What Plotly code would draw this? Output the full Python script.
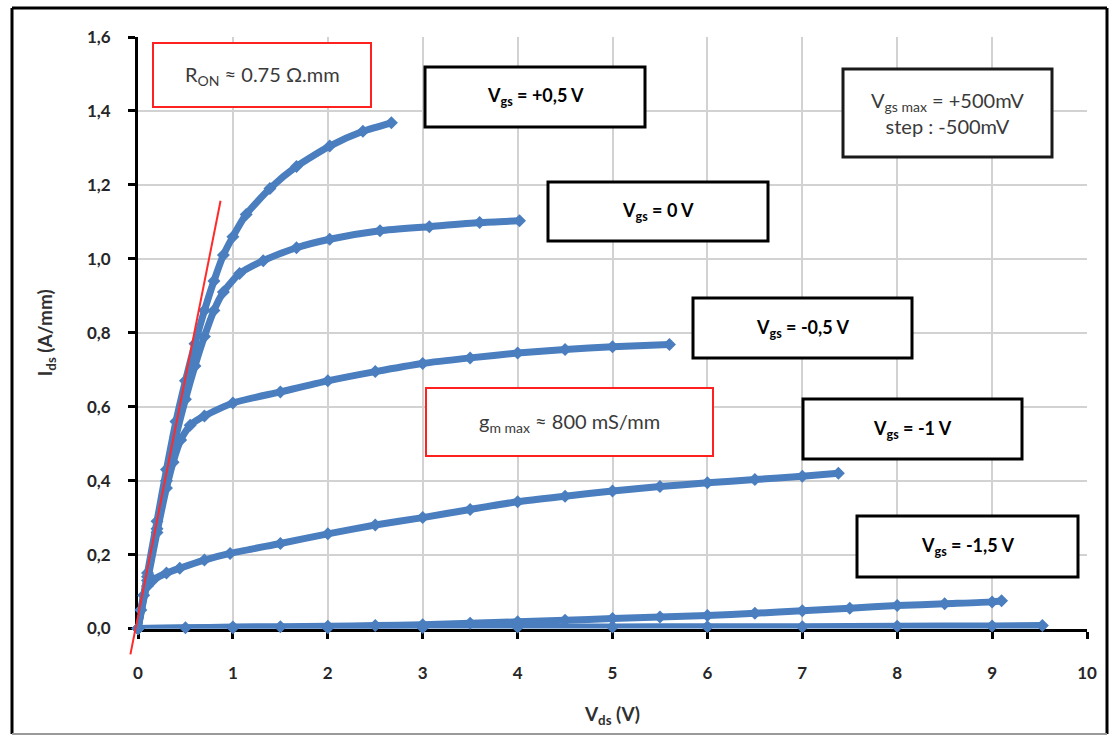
import plotly.graph_objects as go

# ---------------- data ----------------
vds_p05 = [0, 0.1, 0.2, 0.3, 0.4, 0.5, 0.6, 0.7, 0.8, 0.9, 1.0, 1.14, 1.39, 1.67, 2.02, 2.37, 2.67]
ids_p05 = [0, 0.15, 0.29, 0.43, 0.56, 0.67, 0.77, 0.86, 0.94, 1.01, 1.06, 1.12, 1.19, 1.25, 1.305, 1.345, 1.368]

vds_0 = [0, 0.1, 0.2, 0.3, 0.4, 0.5, 0.6, 0.7, 0.8, 0.9, 1.07, 1.32, 1.67, 2.02, 2.55, 3.07, 3.6, 4.02]
ids_0 = [0, 0.14, 0.27, 0.40, 0.52, 0.62, 0.71, 0.79, 0.86, 0.91, 0.96, 0.995, 1.03, 1.053, 1.076, 1.087, 1.098, 1.103]

vds_m05 = [0, 0.1, 0.2, 0.3, 0.37, 0.45, 0.55, 0.7, 1.0, 1.5, 2.0, 2.5, 3.0, 3.5, 4.0, 4.5, 5.0, 5.6]
ids_m05 = [0, 0.13, 0.26, 0.38, 0.45, 0.51, 0.55, 0.575, 0.61, 0.64, 0.67, 0.695, 0.717, 0.732, 0.745, 0.755, 0.762, 0.768]

vds_m1 = [0, 0.03, 0.06, 0.1, 0.16, 0.3, 0.44, 0.7, 0.97, 1.5, 2.0, 2.5, 3.0, 3.5, 4.0, 4.5, 5.0, 5.5, 6.0, 6.5, 7.0, 7.38]
ids_m1 = [0, 0.05, 0.09, 0.115, 0.131, 0.15, 0.163, 0.185, 0.203, 0.23, 0.256, 0.28, 0.30, 0.322, 0.343, 0.358, 0.372, 0.384, 0.394, 0.403, 0.412, 0.42]

vds_m15 = [0, 0.5, 1.0, 1.5, 2.0, 2.5, 3.0, 3.5, 4.0, 4.5, 5.0, 5.5, 6.0, 6.5, 7.0, 7.5, 8.0, 8.5, 9.0, 9.1]
ids_m15 = [0, 0.002, 0.004, 0.005, 0.006, 0.008, 0.01, 0.014, 0.018, 0.022, 0.027, 0.031, 0.035, 0.041, 0.048, 0.055, 0.062, 0.067, 0.072, 0.075]

vds_m2 = [0, 1, 2, 3, 4, 5, 6, 7, 8, 9, 9.53]
ids_m2 = [0, 0.002, 0.002, 0.003, 0.004, 0.004, 0.005, 0.005, 0.006, 0.007, 0.008]

ron_x = [-0.08, 0.87]
ron_y = [-0.07, 1.157]

x_ticks = [0, 1, 2, 3, 4, 5, 6, 7, 8, 9, 10]
x_ticktext = ["0", "1", "2", "3", "4", "5", "6", "7", "8", "9", "10"]
y_ticks = [0, 0.2, 0.4, 0.6, 0.8, 1.0, 1.2, 1.4, 1.6]
y_ticktext = ["0,0", "0,2", "0,4", "0,6", "0,8", "1,0", "1,2", "1,4", "1,6"]

# ---------------- geometry ----------------
W, H = 1110, 736
ML, MR, MT, MB = 100, 23, 37, 66
PX0, PY0 = 138.0, 628.5          # pixel position of the axes corner
paper_w = W - ML - MR
paper_h = H - MT - MB
xdom0 = (PX0 - ML) / paper_w
ydom0 = ((H - MB) - PY0) / paper_h
XR = [0, 10]
YR = [0, 1.6]
x2lo = XR[0] - (XR[1] - XR[0]) * xdom0 / (1 - xdom0)
y2lo = YR[0] - (YR[1] - YR[0]) * ydom0 / (1 - ydom0)


def pxp(px):
    return (px - ML) / paper_w


def pyp(py):
    return ((H - MB) - py) / paper_h


BLUE = "#4A7EBF"
FONT = "Lato"

fig = go.Figure()
for xs, ys in [(vds_m2, ids_m2), (vds_m15, ids_m15), (vds_m1, ids_m1),
               (vds_m05, ids_m05), (vds_0, ids_0), (vds_p05, ids_p05)]:
    fig.add_trace(go.Scatter(
        x=xs, y=ys, mode="lines+markers",
        line=dict(color=BLUE, width=7, shape="spline", smoothing=0.6),
        marker=dict(symbol="diamond", size=10, color=BLUE),
        cliponaxis=False, showlegend=False, hoverinfo="skip"))

fig.add_trace(go.Scatter(
    x=ron_x, y=ron_y, mode="lines", xaxis="x2", yaxis="y2",
    line=dict(color="#ff2a2a", width=2), showlegend=False, hoverinfo="skip"))

axis_common = dict(
    showline=True, linecolor="black", linewidth=3,
    ticks="outside", ticklen=7, tickwidth=3, tickcolor="black",
    showgrid=True, gridcolor="#d2d2d2", gridwidth=1.5,
    zeroline=False, layer="below traces",
    tickfont=dict(family=FONT, size=17, color="#262626", weight="bold"),
)

fig.update_layout(
    width=W, height=H, autosize=False,
    margin=dict(l=ML, r=MR, t=MT, b=MB),
    paper_bgcolor="white", plot_bgcolor="rgba(0,0,0,0)",
    showlegend=False,
    xaxis=dict(axis_common, domain=[xdom0, 1], range=XR, tickvals=x_ticks, ticktext=x_ticktext,
               ticklabelstandoff=20,
               title=dict(text="V<sub>ds</sub> (V)", standoff=26,
                          font=dict(family=FONT, size=19, color="#303030", weight="bold"))),
    yaxis=dict(axis_common, domain=[ydom0, 1], range=YR, tickvals=y_ticks, ticktext=y_ticktext,
               ticklabelstandoff=14,
               title=dict(text="I<sub>ds</sub> (A/mm)", standoff=30,
                          font=dict(family=FONT, size=19, color="#303030", weight="bold"))),
    xaxis2=dict(domain=[0, 1], range=[x2lo, XR[1]], anchor="y2", visible=False, fixedrange=True),
    yaxis2=dict(domain=[0, 1], range=[y2lo, YR[1]], anchor="x2", visible=False, fixedrange=True),
)

# ---------------- boxes and labels ----------------
boxes = [
    # (x0, y0, x1, y1, color, width, text, bold, size)
    (153, 43, 371, 107, "#ff2020", 2, "R<sub>ON</sub> ≈ 0.75 Ω.mm", False, 20),
    (425, 67, 645, 127, "black", 3, "V<sub>gs</sub> = +0,5 V", True, 18),
    (843, 69, 1052, 157, "#1a1a1a", 3, "V<sub>gs max</sub> = +500mV<br>step : -500mV", False, 20),
    (548, 182, 768, 241, "black", 3, "V<sub>gs</sub> = 0 V", True, 18),
    (693, 298, 912, 358, "black", 3, "V<sub>gs</sub> = -0,5 V", True, 18),
    (803, 399, 1022, 459, "black", 3, "V<sub>gs</sub> = -1 V", True, 18),
    (857, 516, 1078, 577, "black", 3, "V<sub>gs</sub> = -1,5 V", True, 18),
    (426, 388, 713, 456, "#ff2020", 2, "g<sub>m max</sub> ≈ 800 mS/mm", False, 20),
]
for x0, y0, x1, y1, col, lw, txt, bold, size in boxes:
    fig.add_shape(type="rect", xref="paper", yref="paper",
                  x0=pxp(x0), x1=pxp(x1), y0=pyp(y1), y1=pyp(y0),
                  line=dict(color=col, width=lw), fillcolor="white", layer="above")
    fig.add_annotation(xref="paper", yref="paper",
                       x=pxp((x0 + x1) / 2), y=pyp((y0 + y1) / 2),
                       text=("<b>%s</b>" % txt) if bold else txt, showarrow=False,
                       xanchor="center", yanchor="middle", align="center",
                       font=dict(family=FONT, size=size,
                                 color="black" if bold else "#3a3a3a"))

# outer frame
for (a, b, c, d, col, lw) in [(12, 8, 12, 734, "black", 3), (12, 8, 1107, 8, "black", 3),
                              (1107, 8, 1107, 734, "black", 3), (12, 734, 1107, 734, "#9a9a9a", 2)]:
    fig.add_shape(type="line", xref="paper", yref="paper",
                  x0=pxp(a), y0=pyp(b), x1=pxp(c), y1=pyp(d),
                  line=dict(color=col, width=lw))

fig.write_html("out.html", config={"displayModeBar": False},
               post_script="document.body.style.margin='0';document.body.style.overflow='hidden';")
